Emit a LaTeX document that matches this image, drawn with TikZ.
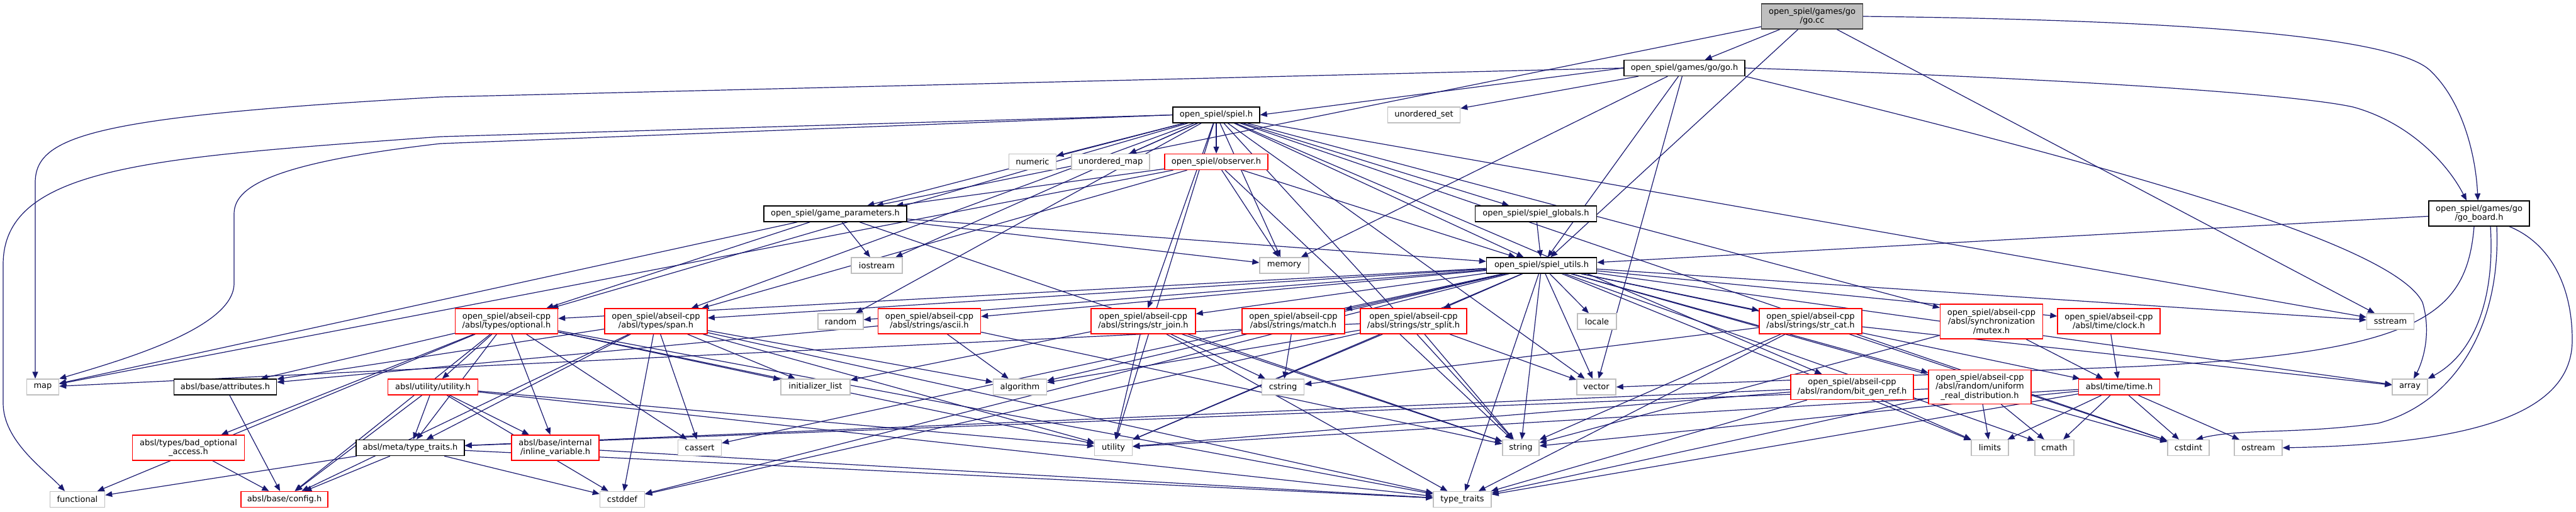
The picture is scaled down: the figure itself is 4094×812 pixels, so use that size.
\documentclass[tikz,border=0pt]{standalone}
\usepackage{fontspec}
\setmainfont{DejaVu Sans}
\usetikzlibrary{arrows.meta}
\definecolor{edgec}{RGB}{25,25,112}
\definecolor{sysc}{RGB}{191,191,191}
\definecolor{mainfill}{RGB}{191,191,191}
\definecolor{mainbord}{RGB}{64,64,64}
\definecolor{redc}{RGB}{255,0,0}
\pgfdeclarelayer{bg}
\pgfsetlayers{bg,main}
\begin{document}
\begin{tikzpicture}[x=1pt,y=-1pt,
 nbox/.style={rectangle, draw, fill=white, line width=1.4pt, inner sep=0pt, align=center,
   minimum height=25pt, font=\fontsize{13}{14.5}\selectfont},
 sysn/.style={nbox, draw=sysc},
 blkn/.style={nbox, draw=black},
 redn/.style={nbox, draw=redc},
 mainn/.style={nbox, draw=mainbord, fill=mainfill},
 conn/.style={draw=edgec, line width=1.2pt, -{Triangle[length=11pt,width=9pt]}}]
\useasboundingbox (0,0) rectangle (4094,812);
% row 0-1
\node[mainn, minimum width=161pt, minimum height=40pt] (gocc) at (2880,26) {open\_spiel/games/go\\/go.cc};
\node[blkn, minimum width=192pt] (goh) at (2677,108) {open\_spiel/games/go/go.h};
% row 2
\node[blkn, minimum width=138pt] (spielh) at (1933,182.5) {open\_spiel/spiel.h};
\node[sysn, minimum width=115pt] (uset) at (2263,182.5) {unordered\_set};
% row 3
\node[sysn, minimum width=75pt] (numeric) at (1641,257) {numeric};
\node[sysn, minimum width=124pt] (umap) at (1765,257) {unordered\_map};
\node[redn, minimum width=164pt] (observer) at (1933,257) {open\_spiel/observer.h};
% row 4
\node[blkn, minimum width=227pt] (gparams) at (1327.5,339.5) {open\_spiel/game\_parameters.h};
\node[blkn, minimum width=193pt] (globals) at (2441,339.5) {open\_spiel/spiel\_globals.h};
\node[blkn, minimum width=160pt, minimum height=40pt] (goboard) at (3940,339) {open\_spiel/games/go\\/go\_board.h};
% row 5
\node[sysn, minimum width=81pt] (iostream) at (1393.5,421.5) {iostream};
\node[sysn, minimum width=78pt] (memory) at (2041,421.5) {memory};
\node[blkn, minimum width=175pt] (utils) at (2450,421.5) {open\_spiel/spiel\_utils.h};
% row 6
\node[redn, minimum width=163pt, minimum height=40pt] (optional) at (805,510) {open\_spiel/abseil-cpp\\/absl/types/optional.h};
\node[redn, minimum width=163pt, minimum height=40pt] (span) at (1042.5,510) {open\_spiel/abseil-cpp\\/absl/types/span.h};
\node[sysn, minimum width=72pt] (random) at (1336,510.5) {random};
\node[redn, minimum width=163pt, minimum height=40pt] (ascii) at (1477,510) {open\_spiel/abseil-cpp\\/absl/strings/ascii.h};
\node[redn, minimum width=166pt, minimum height=40pt] (strjoin) at (1817,510) {open\_spiel/abseil-cpp\\/absl/strings/str\_join.h};
\node[redn, minimum width=163pt, minimum height=40pt] (match) at (2055.5,510) {open\_spiel/abseil-cpp\\/absl/strings/match.h};
\node[redn, minimum width=169pt, minimum height=40pt] (strsplit) at (2246.5,510) {open\_spiel/abseil-cpp\\/absl/strings/str\_split.h};
\node[sysn, minimum width=62pt] (locale) at (2538,510.5) {locale};
\node[redn, minimum width=163pt, minimum height=40pt] (strcat) at (2877.5,510) {open\_spiel/abseil-cpp\\/absl/strings/str\_cat.h};
\node[redn, minimum width=163pt, minimum height=55pt] (mutex) at (3165,510.5) {open\_spiel/abseil-cpp\\/absl/synchronization\\/mutex.h};
\node[redn, minimum width=163pt, minimum height=40pt] (clock) at (3351.5,510) {open\_spiel/abseil-cpp\\/absl/time/clock.h};
\node[sysn, minimum width=75pt] (sstream) at (3799,510.5) {sstream};
% row 7
\node[sysn, minimum width=51pt] (map) at (68,614.5) {map};
\node[blkn, minimum width=163pt] (attributes) at (358,614.5) {absl/base/attributes.h};
\node[redn, minimum width=143pt] (autility) at (688,614.5) {absl/utility/utility.h};
\node[sysn, minimum width=110pt] (initlist) at (1296,614.5) {initializer\_list};
\node[sysn, minimum width=85pt] (algorithm) at (1621,614.5) {algorithm};
\node[sysn, minimum width=67pt] (cstring) at (2039,614.5) {cstring};
\node[sysn, minimum width=62pt] (vector) at (2537,614.5) {vector};
\node[redn, minimum width=195pt, minimum height=40pt] (bitgen) at (2943.5,614.5) {open\_spiel/abseil-cpp\\/absl/random/bit\_gen\_ref.h};
\node[redn, minimum width=163pt, minimum height=54pt] (uniform) at (3146.5,614.5) {open\_spiel/abseil-cpp\\/absl/random/uniform\\\_real\_distribution.h};
\node[redn, minimum width=129pt] (time) at (3368,614.5) {absl/time/time.h};
\node[sysn, minimum width=56pt] (array) at (3830,614.5) {array};
% row 8
\node[redn, minimum width=178pt, minimum height=40pt] (badopt) at (299.5,711) {absl/types/bad\_optional\\\_access.h};
\node[blkn, minimum width=172pt] (metatt) at (652,711) {absl/meta/type\_traits.h};
\node[redn, minimum width=139pt, minimum height=40pt] (inlinevar) at (882.6,711) {absl/base/internal\\/inline\_variable.h};
\node[sysn, minimum width=69pt] (cassert) at (1112,711) {cassert};
\node[sysn, minimum width=60pt] (utility) at (1769.6,711) {utility};
\node[sysn, minimum width=58pt] (string) at (2417,711) {string};
\node[sysn, minimum width=59pt] (limits) at (3162.5,711) {limits};
\node[sysn, minimum width=62pt] (cmath) at (3265,711) {cmath};
\node[sysn, minimum width=66pt] (cstdint) at (3478,711) {cstdint};
\node[sysn, minimum width=76pt] (ostream) at (3589,711) {ostream};
% row 9
\node[sysn, minimum width=87pt] (functional) at (123,793) {functional};
\node[redn, minimum width=138pt] (config) at (452,793) {absl/base/config.h};
\node[sysn, minimum width=71pt] (cstddef) at (989,793) {cstddef};
\node[sysn, minimum width=92pt] (typetraits) at (2324,793) {type\_traits};

\begin{pgfonlayer}{bg}
\foreach \s/\t in {gocc/goh, gocc/utils, gocc/sstream, gocc/gparams,
goh/uset, goh/memory, goh/utils, goh/vector,
spielh/numeric, spielh/umap, spielh/observer, spielh/gparams, spielh/globals, spielh/utils, spielh/iostream, spielh/memory, spielh/random, spielh/optional, spielh/span, spielh/strjoin, spielh/mutex, spielh/bitgen, spielh/sstream, spielh/string, spielh/vector, spielh/utility, spielh/cstdint,
observer/gparams, observer/memory, observer/utils, observer/string, observer/span, observer/map,
gparams/iostream, gparams/memory, gparams/utils, gparams/map, gparams/string, gparams/optional,
globals/utils,
goboard/utils,
utils/optional, utils/span, utils/random, utils/ascii, utils/strjoin, utils/match, utils/strsplit, utils/locale, utils/strcat, utils/clock, utils/time, utils/uniform, utils/sstream, utils/algorithm, utils/vector, utils/array, utils/string, utils/cassert, utils/cstdint, utils/cstddef, utils/typetraits, utils/utility, utils/cmath, utils/limits,
optional/attributes, optional/config, optional/badopt, optional/functional, optional/autility, optional/metatt, optional/inlinevar, optional/cassert, optional/initlist, optional/typetraits, optional/utility,
span/algorithm, span/cassert, span/cstddef, span/initlist, span/typetraits, span/utility, span/metatt, span/attributes, span/config,
ascii/algorithm, ascii/string, ascii/attributes,
strjoin/utility, strjoin/cstring, strjoin/initlist, strjoin/string, strjoin/typetraits,
match/cstring,
strsplit/algorithm, strsplit/cstddef, strsplit/map, strsplit/string, strsplit/utility, strsplit/vector,
strcat/array, strcat/cstdint, strcat/string, strcat/typetraits, strcat/cstring,
mutex/time, mutex/string,
clock/time,
time/limits, time/cmath, time/cstdint, time/ostream, time/string, time/typetraits, time/utility,
bitgen/limits, bitgen/typetraits, bitgen/utility, bitgen/metatt,
uniform/limits, uniform/cmath, uniform/typetraits, uniform/metatt,
autility/config, autility/metatt, autility/cstddef, autility/inlinevar, autility/utility, autility/typetraits,
metatt/functional, metatt/config, metatt/cstddef, metatt/typetraits,
inlinevar/typetraits,
attributes/config,
badopt/config}
{\draw[conn] (\s) -- (\t);}
\draw[conn] (goh.west) -- (spielh.east);
% long routed edges on the left
\draw[conn] (goh.west) -- (700,154) .. controls (150,185) and (56,215) .. (56,290) -- ([xshift=-12pt]map.north);
\draw[conn] (spielh.west) -- (700,217) .. controls (250,250) and (5,262) .. (5,420) -- (5,640) .. controls (5,700) and (70,745) .. ([xshift=-20pt]functional.north);
\draw[conn] (spielh.west) -- (700,228) .. controls (420,260) and (372,300) .. (372,340) -- (372,450) .. controls (372,520) and (200,570) .. (map.north east);
% routed edges on the right
\draw[conn] (gocc.east) .. controls (3500,32) and (3800,60) .. (3860,110) .. controls (3915,160) and (3935,250) .. ([xshift=-2pt]goboard.north);
\draw[conn] (goh.east) .. controls (3300,125) and (3650,150) .. (3740,170) .. controls (3830,195) and (3890,260) .. ([xshift=-20pt]goboard.north);
\draw[conn] (goh.south east) .. controls (3300,250) and (3800,380) .. (3850,480) .. controls (3865,530) and (3850,575) .. ([xshift=6pt]array.north);
\draw[conn] ([xshift=48pt]goboard.south) .. controls (4050,385) and (4088,450) .. (4088,540) .. controls (4088,650) and (3950,705) .. (ostream.east);
\draw[conn] ([xshift=28pt]goboard.south) .. controls (3975,520) and (3900,640) .. (3780,672) .. controls (3650,690) and (3560,680) .. ([xshift=12pt]cstdint.north);
\draw[conn] ([xshift=18pt]goboard.south) .. controls (3965,470) and (3935,560) .. (array.north east);
\draw[conn] ([xshift=-8pt]goboard.south) .. controls (3920,500) and (3850,560) .. (3394,582) -- (vector.east);
\end{pgfonlayer}
\end{tikzpicture}
\end{document}
